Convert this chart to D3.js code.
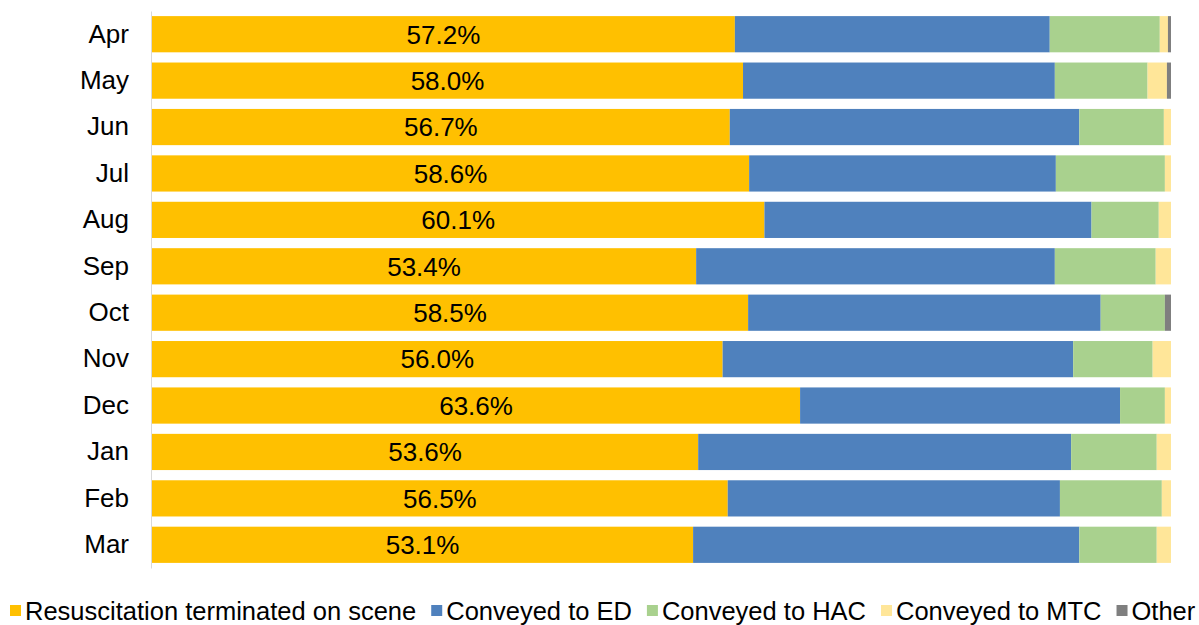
<!DOCTYPE html>
<html><head><meta charset="utf-8">
<script src="https://cdn.jsdelivr.net/npm/d3@7"></script>
<style>body{margin:0;background:#fff;} svg{display:block;font-family:Arial,"Liberation Sans",sans-serif;}</style>
</head><body>
<svg id="c" width="1199" height="625"></svg>
<script>
const months = ["Apr","May","Jun","Jul","Aug","Sep","Oct","Nov","Dec","Jan","Feb","Mar"];
const seriesNames = ["Resuscitation terminated on scene","Conveyed to ED","Conveyed to HAC","Conveyed to MTC","Other"];
const terminated = [57.2,58.0,56.7,58.6,60.1,53.4,58.5,56.0,63.6,53.6,56.5,53.1];
const conveyedED = [30.9,30.6,34.3,30.1,32.1,35.2,34.6,34.4,31.4,36.6,32.6,37.9];
const conveyedHAC = [10.8,9.1,8.3,10.7,6.6,9.9,6.3,7.8,4.4,8.4,10.0,7.6];
const conveyedMTC = [0.8,1.9,0.7,0.6,1.2,1.5,0.0,1.8,0.6,1.4,0.9,1.4];
const other = [0.3,0.4,0.0,0.0,0.0,0.0,0.6,0.0,0.0,0.0,0.0,0.0];
const colors = ["#FFC000","#4F81BD","#A9D18E","#FFE699","#7F7F7F"];

const FS = 26, LFS = 25.5;
const rows = months.map((m,i)=>({month:m,v:[terminated[i],conveyedED[i],conveyedHAC[i],conveyedMTC[i],other[i]]}));
const svg = d3.select("#c");
const x = d3.scaleLinear().domain([0,100]).range([152,1171]);
const y = d3.scaleBand().domain(months).range([11,568]).paddingInner(0.22).paddingOuter(0.11);

rows.forEach(r=>{
  let acc=0;
  r.segs = r.v.map((v,k)=>{const s={k,x0:acc,x1:acc+v,month:r.month}; acc+=v; return s;});
});

const g = svg.append("g");
rows.forEach(r=>{
  g.selectAll(null).data(r.segs.filter(s=>s.x1>s.x0)).enter().append("rect")
    .attr("x",s=>x(s.x0)).attr("width",s=>x(s.x1)-x(s.x0))
    .attr("y",y(r.month)).attr("height",y.bandwidth())
    .attr("fill",s=>colors[s.k]);
  g.append("text").attr("x",(x(0)+x(r.v[0]))/2).attr("y",y(r.month)+y.bandwidth()/2)
    .attr("dy","0.36em").attr("text-anchor","middle").attr("font-size",FS).attr("fill","#000")
    .text(r.v[0].toFixed(1)+"%");
});

// axis
const ax = svg.append("g").attr("transform",`translate(${x(0)-1},0)`).call(d3.axisLeft(y).tickSize(0).tickPadding(22));
ax.select(".domain").attr("stroke","#D9D9D9");
ax.selectAll("text").attr("font-size",FS).attr("fill","#000").attr("font-family","Arial,'Liberation Sans',sans-serif");

// legend
const leg = svg.append("g");
let lx = 10;
seriesNames.forEach((n,k)=>{
  leg.append("rect").attr("x",lx).attr("y",605).attr("width",11).attr("height",11).attr("fill",colors[k]);
  const t = leg.append("text").attr("x",lx+15).attr("y",611).attr("dy","0.36em").attr("font-size",LFS).attr("fill","#000").text(n);
  lx += 15 + t.node().getComputedTextLength() + 15;
});
</script>
</body></html>
